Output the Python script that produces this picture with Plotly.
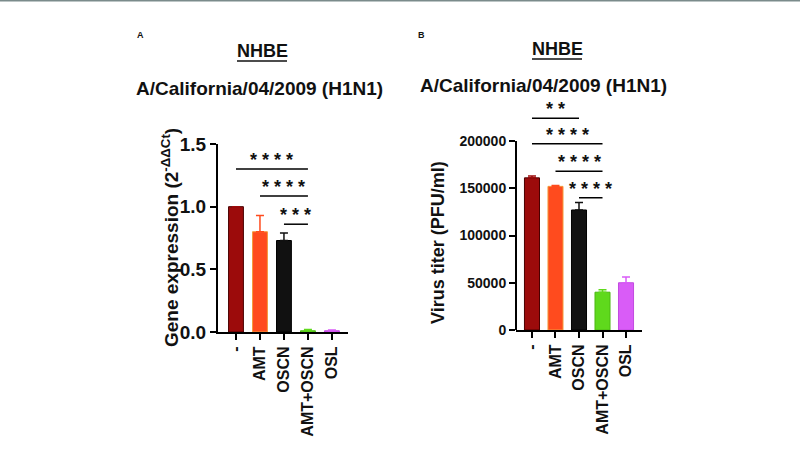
import plotly.graph_objects as go

groups = ["-", "AMT", "OSCN", "AMT+OSCN", "OSL"]
colors = ["#9c0b0b", "#ff4b1e", "#111111", "#5fd91c", "#d95cf7"]
edge_colors = ["#4a0000", "#f59a3a", "#000000", "#4cb814", "#c24be0"]

# panel A: gene expression (2^-ddCt)
gene_expr = [1.0, 0.80, 0.73, 0.01, 0.01]
gene_err = [0.0, 0.13, 0.06, 0.01, 0.005]
# (group from, group to, line height, stars)
sig_a = [(0, 3, 1.30, "****"), (1, 3, 1.085, "****"), (2, 3, 0.86, "***")]

# panel B: virus titer (PFU/ml)
titer = [161000, 152000, 127000, 40000, 50000]
titer_err = [2000, 1000, 8000, 2500, 6000]
sig_b = [(0, 2, 224000, "**"), (0, 3, 197000, "****"),
         (1, 3, 168000, "****"), (2, 3, 140000, "****")]

W, H = 800, 450
FONT = "Liberation Sans, Arial, sans-serif"


def px(x):
    return x / W


def py(y):
    return 1 - y / H


fig = go.Figure()

# one trace per group so each error bar takes its bar's colour
for i, g in enumerate(groups):
    fig.add_trace(go.Bar(
        x=[g], y=[gene_expr[i]], xaxis="x", yaxis="y", width=0.62,
        marker=dict(color=colors[i], line=dict(color=edge_colors[i], width=1)),
        error_y=dict(type="data", array=[gene_err[i]], symmetric=False, arrayminus=[0],
                     thickness=1.5, width=4, color=colors[i]),
        showlegend=False))
    fig.add_trace(go.Bar(
        x=[g], y=[titer[i]], xaxis="x2", yaxis="y2", width=0.64,
        marker=dict(color=colors[i], line=dict(color=edge_colors[i], width=1)),
        error_y=dict(type="data", array=[titer_err[i]], symmetric=False, arrayminus=[0],
                     thickness=1.5, width=4, color=colors[i]),
        showlegend=False))


def tfont(size):
    return dict(family=FONT, size=size, color="#111", weight="bold")


axis_common = dict(showgrid=False, zeroline=False, linecolor="black", linewidth=2,
                   ticks="outside", tickcolor="black", tickwidth=2, ticklen=6,
                   automargin=False)

fig.update_layout(
    width=W, height=H, margin=dict(l=0, r=0, t=0, b=0),
    paper_bgcolor="white", plot_bgcolor="white", barmode="overlay",
    font=dict(family=FONT, color="#111"),
    xaxis=dict(axis_common, domain=[px(218), px(348)], anchor="y",
               categoryorder="array", categoryarray=groups,
               range=[-0.75, 4.67], showline=True, tickangle=-90,
               tickfont=tfont(16)),
    yaxis=dict(axis_common, domain=[py(332), py(144)], anchor="x",
               range=[0, 1.5], showline=True, tickvals=[0, 0.5, 1.0, 1.5],
               ticktext=["0.0", "0.5", "1.0", "1.5"], tickfont=tfont(19)),
    xaxis2=dict(axis_common, domain=[px(516), px(642)], anchor="y2",
                categoryorder="array", categoryarray=groups,
                range=[-0.68, 4.68], showline=True, tickangle=-90,
                tickfont=tfont(16)),
    yaxis2=dict(axis_common, domain=[py(330), py(93.75)], anchor="x2",
                range=[0, 250000], showline=False,
                tickvals=[0, 50000, 100000, 150000, 200000],
                ticktext=["0", "50000", "100000", "150000", "200000"],
                tickfont=tfont(14)),
)

# top border strip
fig.add_shape(type="line", xref="paper", yref="paper", x0=0, x1=1, y0=1, y1=1,
              line=dict(color="#7b8b8b", width=3))
# panel B y axis line stops at the last tick
fig.add_shape(type="line", xref="x2 domain", yref="y2", x0=0, x1=0, y0=0, y1=200000,
              line=dict(color="black", width=2))

star_font = dict(family=FONT, size=18, color="#111", weight="bold")
for a, b, h, s in sig_a:
    fig.add_shape(type="line", xref="x", yref="y", x0=a, x1=b, y0=h, y1=h,
                  line=dict(color="black", width=1.5))
    fig.add_annotation(x=(a + b) / 2, y=h, xref="x", yref="y", text=" ".join(s),
                       showarrow=False, xanchor="center", yanchor="bottom", yshift=-3,
                       font=star_font)
for a, b, h, s in sig_b:
    fig.add_shape(type="line", xref="x2", yref="y2", x0=a, x1=b, y0=h, y1=h,
                  line=dict(color="black", width=1.5))
    fig.add_annotation(x=(a + b) / 2, y=h, xref="x2", yref="y2", text=" ".join(s),
                       showarrow=False, xanchor="center", yanchor="bottom", yshift=-3,
                       font=star_font)


def note(x, y, text, size, angle=0):
    fig.add_annotation(x=px(x), y=py(y), xref="paper", yref="paper", text=text,
                       showarrow=False, xanchor="center", yanchor="middle",
                       textangle=angle, font=dict(family=FONT, size=size, color="#111"))


# panel letters and titles
note(140, 35, "<b>A</b>", 9)
note(421, 35, "<b>B</b>", 9)
for cx, ty, tx, sy in [(262, 51, 259, 88), (557, 49, 543, 85)]:
    note(cx, ty, "<b>NHBE</b>", 18)
    fig.add_shape(type="line", xref="paper", yref="paper", x0=px(cx - 25), x1=px(cx + 25),
                  y0=py(ty + 10), y1=py(ty + 10), line=dict(color="#111", width=1.5))
    note(tx, sy, "<b>A/California/04/2009 (H1N1)</b>", 19)

# y axis titles
note(170, 238, "<b>Gene expression (2<sup>-ΔΔCt</sup>)</b>", 19, -90)
note(438, 243, "<b>Virus titer (PFU/ml)</b>", 18, -90)

fig.write_html("out.html", config={"displayModeBar": False},
               post_script="document.body.style.margin='0';")
